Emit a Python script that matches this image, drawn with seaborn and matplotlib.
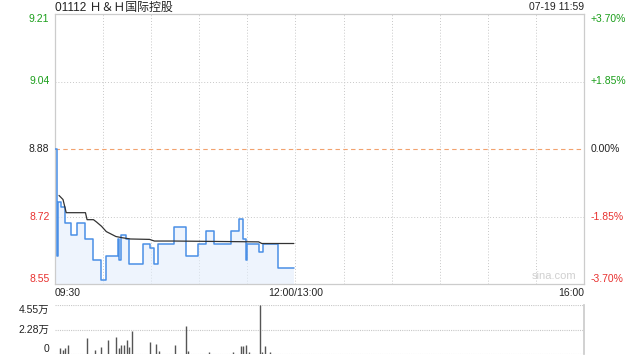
import numpy as np
import pandas as pd
import matplotlib
matplotlib.use("Agg")
import matplotlib.pyplot as plt
import seaborn as sns

# ---------------- data ----------------
title = "01112 Ｈ＆Ｈ国际控股"
stamp = "07-19 11:59"
prev_close = 8.88

# minutes since 09:30 (150 = 12:00/13:00, 330 = 16:00)
price_t = [0, 1, 2, 4, 6, 10, 14, 19, 24, 29, 32, 39, 40, 41, 44, 46, 55, 59, 62, 64,
           74, 82, 89, 94, 99, 110, 115, 117, 119, 120, 127, 130, 139, 149]
price_v = [8.88, 8.62, 8.75, 8.74, 8.70, 8.67, 8.70, 8.66, 8.61, 8.56, 8.62, 8.66, 8.61, 8.67, 8.66, 8.60, 8.65, 8.64, 8.60, 8.65,
           8.69, 8.62, 8.65, 8.68, 8.65, 8.68, 8.71, 8.66, 8.61, 8.65, 8.63, 8.65, 8.59, 8.59]

avg_t = [2.5, 5, 7, 19, 20, 24, 26, 29, 32, 38, 42, 47, 59, 62, 74, 127, 129, 149]
avg_v = [8.767, 8.757, 8.725, 8.725, 8.708, 8.708, 8.702, 8.692, 8.679, 8.667, 8.664, 8.661, 8.660, 8.656, 8.656, 8.654, 8.650, 8.650]

vol_t = [3, 5, 6, 8, 20, 25, 29, 33, 38, 40, 41, 43, 45, 46, 48, 59, 63, 65, 75, 82, 83, 96,
         111, 116, 117, 119, 121, 128, 129, 131, 134]
vol_v = [5600, 3400, 5600, 8700, 15200, 4000, 6800, 13300, 16100, 5900, 8700, 8700, 13300, 6800, 21700,
         11500, 9600, 3100, 8700, 26300, 2500, 1500, 2200, 7700, 7700, 8700, 1500, 45500, 1500, 7700, 1500]

pct_ticks = [3.70, 1.85, 0.00, -1.85, -3.70]
left_labels = ["9.21", "9.04", "8.88", "8.72", "8.55"]
right_labels = ["+3.70%", "+1.85%", "0.00%", "-1.85%", "-3.70%"]
vol_ticks = [45500, 22750, 0]
vol_labels = ["4.55万", "2.28万", "0"]
x_labels = ["09:30", "12:00/13:00", "16:00"]

# ---------------- style ----------------
sns.set_theme(style="white")
plt.rcParams["font.family"] = ["Liberation Sans", "Noto Sans CJK SC", "DejaVu Sans"]
FS = 7.5
GREEN = "#1a9e1a"
RED = "#e8312f"
GRID = "#c8c8c8"
SPINE = "#cccccc"

fig = plt.figure(figsize=(6.4, 3.6), dpi=100)
W, H = 640, 360
ax = fig.add_axes([55 / W, (H - 284) / H, 529 / W, 270 / H])
axv = fig.add_axes([55 / W, (H - 354) / H, 529 / W, 49 / H])

lo = prev_close * (1 + pct_ticks[-1] / 100)
hi = prev_close * (1 + pct_ticks[0] / 100)
tick_prices = [prev_close * (1 + p / 100) for p in pct_ticks]

# grid lines
for t in range(30, 330, 30):
    ax.axvline(t, color=GRID, lw=0.7, ls=(0, (1, 2)), zorder=0)
for yv in (tick_prices[1], tick_prices[3]):
    ax.axhline(yv, color=GRID, lw=0.7, ls=(0, (1, 2)), zorder=0)
ax.axhline(prev_close, color="#f2a26e", lw=0.8, ls=(0, (4, 3)), zorder=1)

# price line + fill
df_p = pd.DataFrame({"t": price_t, "p": price_v})
ax.fill_between(price_t, price_v, lo, step="post", color="#e3eefc", alpha=0.6, lw=0, zorder=1)
sns.lineplot(data=df_p, x="t", y="p", ax=ax, color="#4a8fe6", lw=1.1,
             drawstyle="steps-post", estimator=None, zorder=3)
df_a = pd.DataFrame({"t": avg_t, "p": avg_v})
sns.lineplot(data=df_a, x="t", y="p", ax=ax, color="#333333", lw=0.9, estimator=None, zorder=4)

ax.set_xlim(0, 330)
ax.set_ylim(lo, hi)
ax.set_xlabel("")
ax.set_ylabel("")
ax.set_xticks([])
ax.set_yticks(tick_prices)
ax.set_yticklabels(left_labels)
ax.tick_params(axis="y", length=0, pad=4, labelsize=FS)
colors = [GREEN, GREEN, "#222222", RED, RED]
vas = ["top", "center", "center", "center", "bottom"]
for lab, c, va in zip(ax.get_yticklabels(), colors, vas):
    lab.set_color(c)
    lab.set_va(va)
for s in ax.spines.values():
    s.set_color(SPINE)
    s.set_linewidth(0.9)

ax2 = ax.twinx()
ax2.set_ylim(lo, hi)
ax2.set_yticks(tick_prices)
ax2.set_yticklabels(right_labels)
ax2.tick_params(axis="y", length=0, pad=5, labelsize=FS)
for lab, c, va in zip(ax2.get_yticklabels(), colors, vas):
    lab.set_color(c)
    lab.set_va(va)
for s in ax2.spines.values():
    s.set_visible(False)

ax.text(0.985, 0.012, "sina.com", transform=ax.transAxes, ha="right", va="bottom",
        fontsize=8, color="#d0d0d0")

# title and stamps
fig.text(55 / W, 1 - 7.5 / H, title, ha="left", va="center", fontsize=8.6, color="#222222")
fig.text(584 / W, 1 - 7.5 / H, stamp, ha="right", va="center", fontsize=FS, color="#222222")

fig.text(55 / W, 1 - 293 / H, x_labels[0], ha="left", va="center", fontsize=FS, color="#222222")
fig.text(296 / W, 1 - 293 / H, x_labels[1], ha="center", va="center", fontsize=FS, color="#222222")
fig.text(584 / W, 1 - 293 / H, x_labels[2], ha="right", va="center", fontsize=FS, color="#222222")

# volume panel
for yv in vol_ticks:
    axv.axhline(yv, color=GRID, lw=0.8, ls=(0, (1, 1)), zorder=0)
axv.vlines(vol_t, 0, vol_v, color="#555555", lw=1.0, zorder=2)
axv.set_xlim(0, 330)
axv.set_ylim(0, 45500)
axv.set_xticks([])
axv.set_yticks(vol_ticks)
axv.set_yticklabels(vol_labels)
axv.tick_params(axis="y", length=0, pad=4, labelsize=FS)
for lab, va in zip(axv.get_yticklabels(), ["top", "center", "bottom"]):
    lab.set_va(va)
    lab.set_color("#222222")
for k, s in axv.spines.items():
    s.set_visible(k == "right")
    s.set_color(SPINE)

fig.savefig("out.png", dpi=100)
